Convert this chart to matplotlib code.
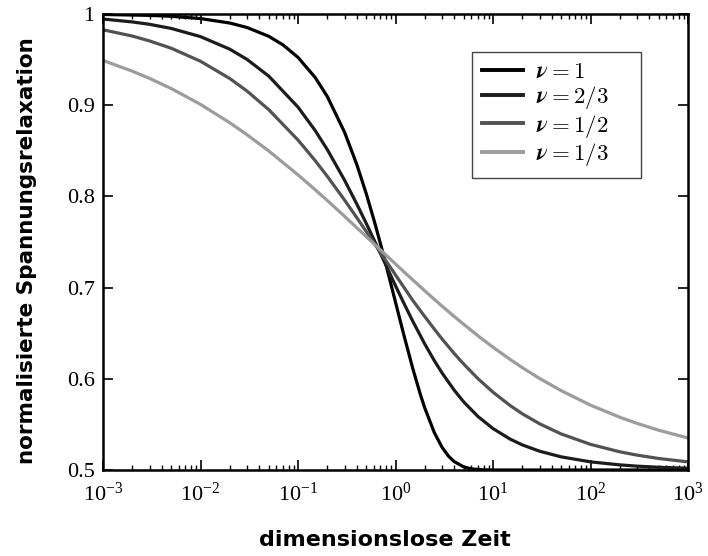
import matplotlib
matplotlib.use("Agg")
import matplotlib.pyplot as plt
from matplotlib.ticker import LogLocator, FixedLocator, FixedFormatter, NullFormatter

# dimensionless time for the nu = 1 curve, and its values
t_nu_1 = [1e-3, 3e-3, 5e-3, 1e-2, 2e-2, 3e-2, 5e-2, 0.07, 0.1, 0.15, 0.2, 0.3, 0.4, 0.5,
          0.6, 0.7, 0.8, 1.0, 1.2, 1.5, 1.8, 2.0, 2.5, 3.0, 3.5, 4.0, 5.0, 6.0, 8.0, 10.0,
          1000.0]
y_nu_1 = [0.9995, 0.9985, 0.9975, 0.9950, 0.9901, 0.9852, 0.9756, 0.9662, 0.9524, 0.9304,
          0.9094, 0.8704, 0.8352, 0.8033, 0.7744, 0.7483, 0.7247, 0.6839, 0.6506, 0.6116,
          0.5826, 0.5677, 0.5410, 0.5249, 0.5151, 0.5092, 0.5034, 0.5012, 0.5002, 0.5000,
          0.5000]

# dimensionless time for the fractional curves
t = [1e-3, 2e-3, 3e-3, 5e-3, 1e-2, 2e-2, 3e-2, 5e-2, 0.1, 0.15, 0.2, 0.3, 0.4, 0.5, 0.7,
     1.0, 1.2, 1.5, 2.0, 2.5, 3.0, 4.0, 5.0, 7.0, 10.0, 15.0, 20.0, 30.0, 50.0, 100.0,
     200.0, 300.0, 500.0, 1000.0]
y_nu_23 = [0.9945, 0.9913, 0.9887, 0.9842, 0.9752, 0.9614, 0.9502, 0.9320, 0.8979, 0.8722,
           0.8512, 0.8178, 0.7918, 0.7706, 0.7375, 0.7020, 0.6843, 0.6633, 0.6379, 0.6199,
           0.6064, 0.5875, 0.5747, 0.5587, 0.5454, 0.5338, 0.5275, 0.5206, 0.5144, 0.5089,
           0.5056, 0.5042, 0.5030, 0.5019]
y_nu_12 = [0.9827, 0.9758, 0.9705, 0.9625, 0.9482, 0.9292, 0.9155, 0.8952, 0.8618, 0.8392,
           0.8219, 0.7960, 0.7768, 0.7616, 0.7384, 0.7138, 0.7014, 0.6861, 0.6681, 0.6545,
           0.6437, 0.6277, 0.6162, 0.6002, 0.5853, 0.5706, 0.5616, 0.5507, 0.5395, 0.5281,
           0.5199, 0.5163, 0.5126, 0.5089]
y_nu_13 = [0.9491, 0.9373, 0.9294, 0.9183, 0.9009, 0.8807, 0.8676, 0.8499, 0.8236, 0.8073,
           0.7954, 0.7782, 0.7657, 0.7560, 0.7414, 0.7259, 0.7180, 0.7085, 0.6964, 0.6871,
           0.6797, 0.6683, 0.6598, 0.6472, 0.6346, 0.6212, 0.6122, 0.6004, 0.5870, 0.5711,
           0.5578, 0.5511, 0.5436, 0.5351]

labels = [r"$\boldsymbol{\nu = 1}$", r"$\boldsymbol{\nu = 2/3}$",
          r"$\boldsymbol{\nu = 1/2}$", r"$\boldsymbol{\nu = 1/3}$"]
xs = [t_nu_1, t, t, t]
series = [y_nu_1, y_nu_23, y_nu_12, y_nu_13]
colors = ["#000000", "#1c1c1c", "#525252", "#9c9c9c"]

y_ticks = [0.5, 0.6, 0.7, 0.8, 0.9, 1.0]
y_ticklabels = ["0.5", "0.6", "0.7", "0.8", "0.9", "1"]

plt.rcParams["font.family"] = ["Liberation Serif"]
plt.rcParams["mathtext.fontset"] = "custom"
plt.rcParams["mathtext.rm"] = "Liberation Serif"
plt.rcParams["mathtext.it"] = "Liberation Serif:italic"
plt.rcParams["mathtext.bf"] = "Liberation Serif:bold"

fig = plt.figure(figsize=(7.08, 5.56), dpi=100)
ax = fig.add_axes([0.1455, 0.1547, 0.8263, 0.8201])

for x, ys, lab, col in zip(xs, series, labels, colors):
    ax.plot(x, ys, color=col, lw=2.3, label=lab, solid_joinstyle="round")

ax.set_xscale("log")
ax.set_xlim(1e-3, 1e3)
ax.set_ylim(0.5, 1.0)

ax.xaxis.set_major_locator(LogLocator(base=10, numticks=10))
ax.xaxis.set_minor_locator(LogLocator(base=10, subs=range(2, 10), numticks=10))
ax.xaxis.set_minor_formatter(NullFormatter())
ax.yaxis.set_major_locator(FixedLocator(y_ticks))
ax.yaxis.set_major_formatter(FixedFormatter(y_ticklabels))

ax.tick_params(which="both", direction="in", top=True, right=True, labelsize=16)
ax.tick_params(which="major", length=7, width=1.2)
ax.tick_params(which="minor", length=3.5, width=1.0)
ax.tick_params(axis="x", which="major", pad=9)
ax.tick_params(axis="y", which="major", pad=6)

for sp in ax.spines.values():
    sp.set_linewidth(1.8)

ax.set_xlabel("dimensionslose Zeit", family="DejaVu Sans", weight="bold", fontsize=16)
ax.set_ylabel("normalisierte Spannungsrelaxation", family="DejaVu Sans", weight="bold",
              fontsize=15.5)
ax.xaxis.set_label_coords(0.482, -0.154)
ax.xaxis.label.set_va("center")
ax.yaxis.set_label_coords(-0.13, 0.482)
ax.yaxis.label.set_va("center")

leg = ax.legend(loc="upper left", bbox_to_anchor=(0.631, 0.647, 0.289, 0.27),
                mode="expand", borderaxespad=0,
                fontsize=16.5, handlelength=1.75, handletextpad=0.6, labelspacing=0.05,
                borderpad=0.45, fancybox=False, framealpha=1, edgecolor="#444444")
leg.get_frame().set_linewidth(1.0)
for txt in leg.get_texts():
    txt.set_math_fontfamily("cm")
for line in leg.get_lines():
    line.set_linewidth(2.8)

fig.savefig("out.png", dpi=100)
